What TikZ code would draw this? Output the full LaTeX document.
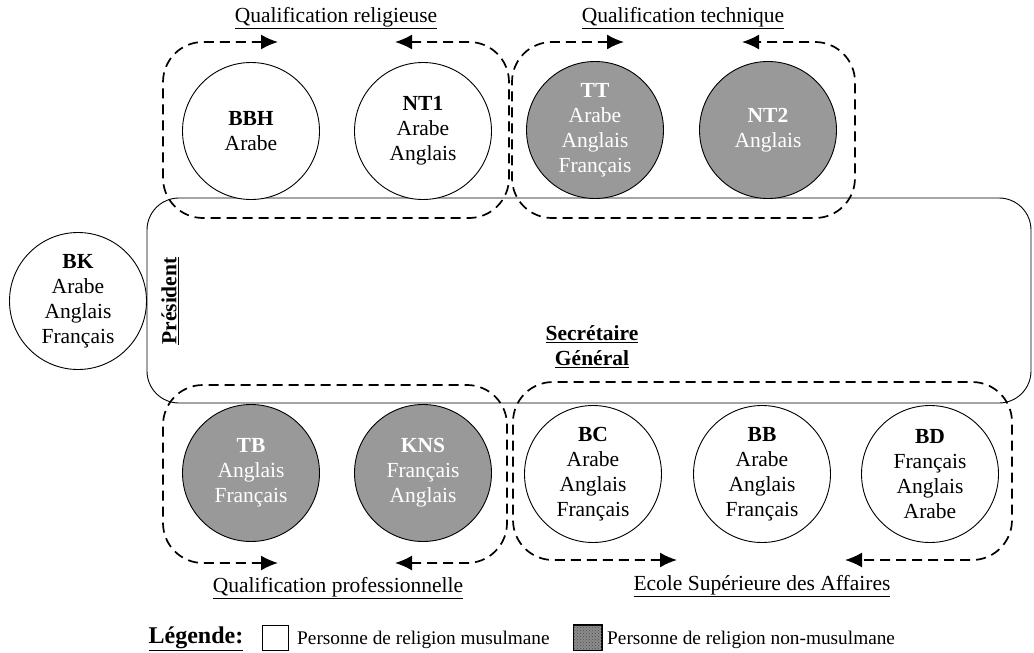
\documentclass[tikz,border=0pt]{standalone}
\usepackage{fontspec}
\setmainfont{Liberation Serif}
\usetikzlibrary{arrows.meta,patterns}
\definecolor{grayfill}{RGB}{153,153,153}
\begin{document}
\begin{tikzpicture}[x=1pt,y=-1pt,
  person/.style={circle,draw=black,line width=0.9pt,minimum size=137pt,inner sep=0pt,align=center,font=\fontsize{21.5}{25}\selectfont},
  muslim/.style={person,fill=white,text=black},
  nonmuslim/.style={person,fill=grayfill,text=white},
  group/.style={dash pattern=on 10pt off 6pt,line width=1.7pt,rounded corners=40pt,{Latex[length=17pt,width=15pt]}-{Latex[length=17pt,width=15pt]}},
  grouptitle/.style={font=\fontsize{21.5}{25}\selectfont,inner sep=0pt,anchor=base},
  role/.style={font=\fontsize{21.5}{25}\selectfont\bfseries,inner sep=0pt,align=center},
  legendtext/.style={font=\fontsize{19.3}{22}\selectfont,inner sep=0pt,anchor=base west},
  legendbox/.style={draw=black,line width=0.8pt,minimum width=26pt,minimum height=25pt,inner sep=0pt}
]
\useasboundingbox (0,0) rectangle (1034,653);

% big organisation box
\node[draw=black,line width=0.9pt,rounded corners=32pt,minimum width=884pt,minimum height=205pt,inner sep=0pt] (org) at (589,300.5) {};
\node[role,rotate=90] (pres) at (170,301) {\underline{Président}};
\node[role] (sg) at (592,347) {\underline{Secrétaire}\\\underline{Général}};

% persons
\node[muslim] (bk) at (78,301) {\textbf{BK}\\Arabe\\Anglais\\Français};
\node[muslim] (bbh) at (251,131) {\textbf{BBH}\\Arabe};
\node[muslim] (nt1) at (423,131) {\textbf{NT1}\\Arabe\\Anglais};
\node[nonmuslim] (tt) at (595,130) {\textbf{TT}\\Arabe\\Anglais\\Français};
\node[nonmuslim] (nt2) at (768,130) {\textbf{NT2}\\Anglais};
\node[nonmuslim] (tb) at (251,473) {\textbf{TB}\\Anglais\\Français};
\node[nonmuslim] (kns) at (423,473) {\textbf{KNS}\\Français\\Anglais};
\node[muslim] (bc) at (593,474) {\textbf{BC}\\Arabe\\Anglais\\Français};
\node[muslim] (bb) at (762,474) {\textbf{BB}\\Arabe\\Anglais\\Français};
\node[muslim] (bd) at (930,474) {\textbf{BD}\\Français\\Anglais\\Arabe};

% groups
\coordinate (g1a) at (278,42); \coordinate (g1b) at (395,42);
\draw[group] (g1a) -- (163,42) -- (163,218) -- (509,218) -- (509,42) -- (g1b);
\coordinate (g2a) at (624,42); \coordinate (g2b) at (742,42);
\draw[group] (g2a) -- (512,42) -- (512,218) -- (855,218) -- (855,42) -- (g2b);
\coordinate (g3a) at (278,563); \coordinate (g3b) at (395,563);
\draw[group] (g3a) -- (163,563) -- (163,385) -- (507,385) -- (507,563) -- (g3b);
\coordinate (g4a) at (677,560); \coordinate (g4b) at (845,560);
\draw[group] (g4a) -- (513,560) -- (513,382) -- (1012,382) -- (1012,560) -- (g4b);

\node[grouptitle] (t1) at (336,22) {\underline{Qualification religieuse}};
\node[grouptitle] (t2) at (683,22) {\underline{Qualification technique}};
\node[grouptitle] (t3) at (338,592) {\underline{Qualification professionnelle}};
\node[grouptitle] (t4) at (762,590) {\underline{Ecole Supérieure des Affaires}};

% legend
\node[font=\fontsize{24}{28}\selectfont\bfseries,inner sep=0pt,anchor=base] (leg) at (196,643) {\underline{Légende:}};
\node[legendbox,fill=white] (lb1) at (275,637.5) {};
\node[legendtext] (lt1) at (297,644) {Personne de religion musulmane};
\node[legendbox,minimum width=28pt,fill=black!45] (lb2) at (587.5,637.5) {};
\fill[pattern=crosshatch dots,pattern color=black!70] (lb2.south west) rectangle (lb2.north east);
\draw[line width=0.8pt] (lb2.south west) rectangle (lb2.north east);
\node[legendtext] (lt2) at (607,644) {Personne de religion non-musulmane};
\end{tikzpicture}
\end{document}
